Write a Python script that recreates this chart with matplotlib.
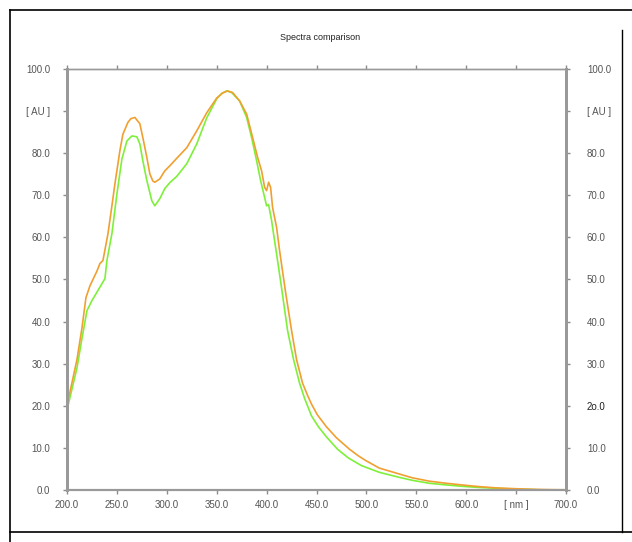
import matplotlib.pyplot as plt
from matplotlib.lines import Line2D
import numpy as np

plt.rcParams['font.family'] = ['Liberation Sans', 'DejaVu Sans']

# orange spectrum
wl_orange = [200, 205, 210, 215, 219, 223, 226, 230, 233, 236, 241, 245, 248, 253, 256, 261, 264,
             268, 273, 276, 280, 283, 286, 288, 293, 298, 303, 310, 320, 330, 340, 350, 356, 361,
             366, 373, 380, 386, 391, 395, 398, 400, 402, 404, 406, 410, 413, 419, 425, 430, 436,
             441, 445, 451, 460, 470, 483, 492, 500, 513, 533, 546, 563, 580, 600, 613, 630, 650,
             670, 685, 700]
ab_orange = [20.1, 25.5, 31.0, 38.5, 45.7, 48.5, 50.0, 52.0, 53.8, 54.5, 60.8, 67.5, 72.7, 80.6,
             84.5, 87.3, 88.2, 88.5, 87.0, 83.7, 79.0, 75.1, 73.4, 73.1, 73.9, 75.8, 77.0, 78.8,
             81.3, 85.3, 89.6, 93.1, 94.3, 94.8, 94.4, 92.4, 89.3, 83.7, 79.0, 75.8, 71.9, 71.1,
             73.1, 71.9, 67.1, 62.4, 56.9, 47.0, 37.9, 31.0, 25.4, 22.5, 20.4, 17.8, 15.0, 12.4,
             9.7, 8.1, 6.9, 5.2, 3.8, 2.9, 2.1, 1.6, 1.1, 0.8, 0.5, 0.3, 0.15, 0.08, 0.05]

# green spectrum
wl_green = [200, 205, 210, 215, 220, 225, 230, 235, 238, 240, 245, 250, 255, 260, 265, 270, 273,
            276, 280, 285, 288, 293, 298, 303, 310, 320, 330, 340, 350, 355, 360, 365, 373, 380,
            385, 390, 394, 398, 400, 402, 405, 408, 410, 415, 421, 427, 433, 438, 445, 452, 460,
            471, 482, 495, 513, 533, 546, 563, 580, 600, 613, 630, 650, 665, 673]
ab_green = [19.0, 24.0, 29.0, 36.0, 42.6, 45.0, 47.0, 49.0, 50.2, 54.5, 60.9, 70.3, 78.6, 82.9,
            84.1, 83.9, 82.2, 78.2, 73.5, 68.7, 67.5, 69.2, 71.6, 73.0, 74.5, 77.5, 82.2, 88.4,
            92.9, 94.2, 94.8, 94.4, 92.4, 88.5, 83.7, 78.2, 73.5, 69.5, 67.5, 67.8, 64.0, 59.2,
            56.1, 48.0, 37.9, 31.0, 25.4, 21.8, 17.6, 15.0, 12.6, 9.7, 7.6, 5.8, 4.2, 3.0, 2.3,
            1.6, 1.2, 0.8, 0.6, 0.4, 0.2, 0.1, 0.05]

x_ticks = [200, 250, 300, 350, 400, 450, 500, 550, 600, 650, 700]
x_labels = ['200.0', '250.0', '300.0', '350.0', '400.0', '450.0', '500.0', '550.0', '600.0',
            '[ nm ]', '700.0']
y_ticks = [0, 10, 20, 30, 40, 50, 60, 70, 80, 90, 100]
y_labels = ['0.0', '10.0', '20.0', '30.0', '40.0', '50.0', '60.0', '70.0', '80.0', '[ AU ]',
            '100.0']
y_labels_right = ['0.0', '10.0', '2o.0', '30.0', '40.0', '50.0', '60.0', '70.0', '80.0',
                  '[ AU ]', '100.0']

W, H = 632, 542
fig = plt.figure(figsize=(W / 100, H / 100), dpi=100)
ax = fig.add_axes([67 / W, 1 - 490 / H, (566 - 67) / W, (490 - 69) / H])

ax.plot(wl_orange, ab_orange, color='#f0a030', lw=1.2, zorder=3)
ax.plot(wl_green, ab_green, color='#7ef03a', lw=1.2, zorder=2)

ax.set_xlim(200, 700)
ax.set_ylim(0, 100)

gray = '#8c8c8c'
txt = '#555555'
ax.set_xticks(x_ticks)
ax.set_xticklabels(x_labels)
ax.set_yticks(y_ticks)
ax.set_yticklabels(y_labels)
ax.tick_params(axis='both', direction='out', length=3, width=1, colors=gray,
               labelcolor=txt, labelsize=7)
ax.tick_params(axis='x', top=True, pad=4)
ax.tick_params(axis='y', pad=9)

ax2 = ax.twinx()
ax2.set_ylim(0, 100)
ax2.set_yticks(y_ticks)
ax2.set_yticklabels(y_labels_right)
ax2.tick_params(axis='y', direction='out', length=3, width=1, colors=gray,
                labelcolor=txt, labelsize=7, pad=12)
ax2.get_yticklabels()[2].set_color('#202020')

for a in (ax, ax2):
    for side in ('left', 'right'):
        a.spines[side].set_color('#999999')
        a.spines[side].set_linewidth(2)
    a.spines['bottom'].set_color('#999999')
    a.spines['bottom'].set_linewidth(1.5)
    a.spines['top'].set_color('#999999')
    a.spines['top'].set_linewidth(1)

fig.text(320 / W, 1 - 37 / H, 'Spectra comparison', ha='center', va='center',
         fontsize=6.5, color='#222222')

# outer frame
def fline(x0, y0, x1, y1, lw=1.2):
    fig.add_artist(Line2D([x0 / W, x1 / W], [1 - y0 / H, 1 - y1 / H],
                          color='black', lw=lw, transform=fig.transFigure))

fline(10, 10, 632, 10)
fline(10, 10, 10, 542)
fline(10, 532, 632, 532)
fline(622, 30, 622, 532, lw=1.0)

fig.savefig('out.png', dpi=100)
